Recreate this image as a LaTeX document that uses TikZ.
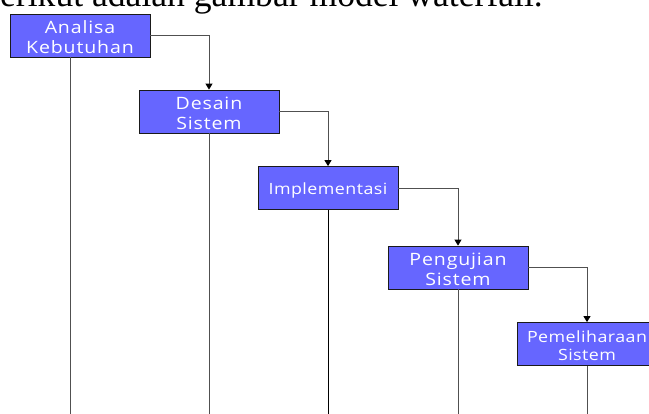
\documentclass[tikz,border=0pt]{standalone}
\usepackage{fontspec}
\usetikzlibrary{arrows.meta}
\setmainfont{Liberation Serif}
\newfontfamily\boxfont[LetterSpace=5,FakeStretch=1.15]{Open Sans}
\newfontfamily\boxfontsmall[LetterSpace=3,FakeStretch=1.15]{Open Sans}
\definecolor{boxblue}{HTML}{6666FF}
\definecolor{edge}{HTML}{1A1A1A}
\definecolor{wire}{HTML}{505050}
\tikzset{
  phase/.style={draw=edge, line width=0.8pt, fill=boxblue, text=white,
    minimum width=140pt, minimum height=43pt, inner sep=0pt, align=center,
    text height=36pt, text depth=0pt, font=\boxfont\fontsize{17}{20}\selectfont},
  phasesmall/.style={phase, text height=33.5pt, font=\boxfontsmall\fontsize{15.5}{18.6}\selectfont},
  phaseone/.style={phasesmall, text height=14pt},
  flow/.style={draw=wire, line width=0.9pt, -{Triangle[width=7pt,length=6pt,color=black]}},
  drop/.style={draw=wire, line width=0.9pt}
}
\begin{document}
\begin{tikzpicture}[x=1pt,y=1pt]
\useasboundingbox (0,0) rectangle (649,-414);
\clip (0,0) rectangle (649,-414);
\coordinate (bot) at (0,-414);
\node[anchor=base east, inner sep=0pt, font=\fontsize{35.6}{40}\selectfont] (title) at (543,-7) {Berikut adalah gambar model waterfall.};
\node[phase] (A) at (80,-35.5) {Analisa\\Kebutuhan};
\node[phase] (D) at (209,-111.5) {Desain\\Sistem};
\node[phaseone] (I) at (328,-188) {Implementasi};
\node[phase] (P) at (458,-267.5) {Pengujian\\Sistem};
\node[phasesmall] (M) at (587,-344) {Pemeliharaan\\Sistem};
\draw[flow] (A.east) -| (D.north);
\draw[flow] (D.east) -| (I.north);
\draw[flow] (I.east) -| (P.north);
\draw[flow] (P.east) -| (M.north);
\draw[drop] ([xshift=-10pt]A.south) -- ([xshift=-10pt]A.south |- bot);
\draw[drop] (D.south) -- (D.south |- bot);
\draw[drop, draw=black] (I.south) -- (I.south |- bot);
\draw[drop] (P.south) -- (P.south |- bot);
\draw[drop] (M.south) -- (M.south |- bot);
\end{tikzpicture}
\end{document}
